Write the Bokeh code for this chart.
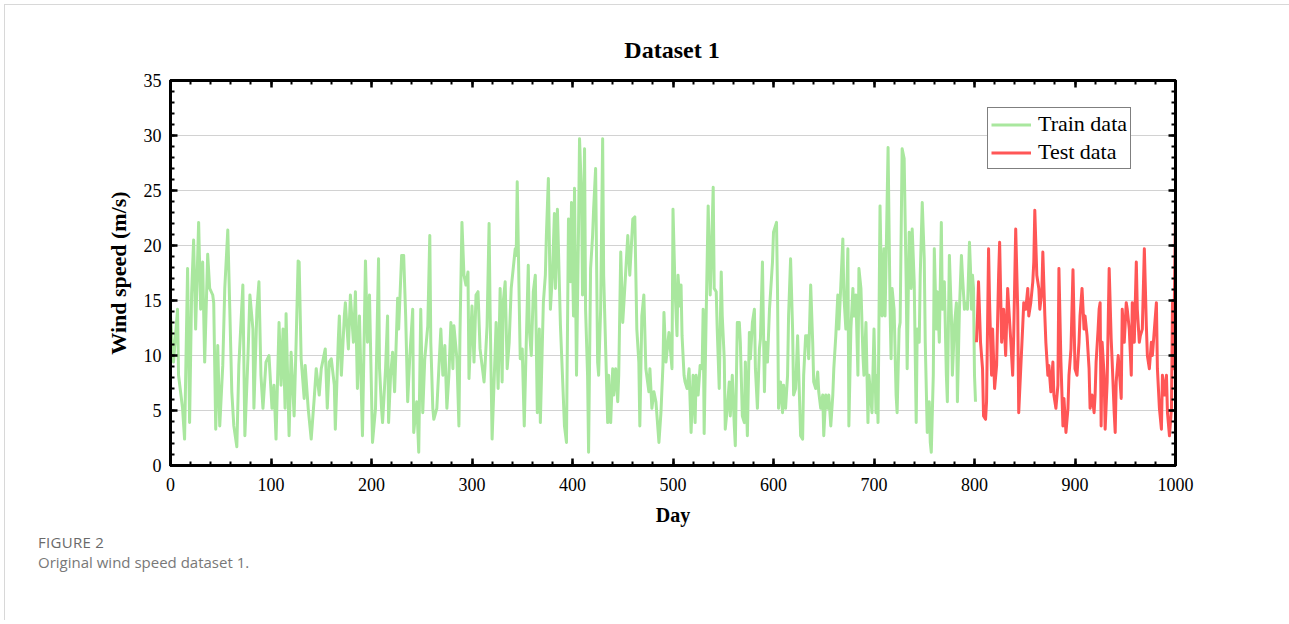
from bokeh.plotting import figure
from bokeh.models import (Range1d, SingleIntervalTicker, LinearAxis, Legend,
                          LegendItem, Div, CustomLabelingPolicy)
from bokeh.layouts import column
from bokeh.embed import file_html
from bokeh.resources import INLINE

# ---------------- data ----------------
train_day = [
    0, 3, 7, 8, 12, 14, 17, 19, 21, 23,
    25, 28, 30, 32, 34, 37, 39, 42, 43, 45,
    47, 49, 52, 54, 57, 59, 61, 63, 66, 68,
    72, 74, 77, 79, 82, 83, 86, 88, 90, 92,
    95, 98, 101, 103, 105, 108, 110, 112, 114, 115,
    118, 120, 123, 125, 127, 128, 130, 133, 134, 137,
    140, 143, 145, 148, 150, 154, 156, 158, 160, 163,
    164, 167, 168, 170, 173, 174, 177, 179, 182, 184,
    186, 188, 191, 194, 196, 198, 201, 204, 207, 208,
    210, 211, 214, 216, 217, 219, 221, 223, 226, 227,
    230, 232, 234, 236, 238, 241, 242, 245, 247, 249,
    251, 253, 256, 258, 259, 261, 262, 265, 267, 269,
    271, 273, 275, 277, 279, 281, 282, 285, 287, 288,
    290, 292, 294, 296, 297, 300, 302, 304, 306, 308,
    310, 312, 313, 315, 317, 318, 320, 323, 324, 326,
    328, 330, 331, 333, 335, 337, 339, 341, 343, 344,
    345, 347, 348, 350, 352, 354, 356, 357, 359, 361,
    363, 365, 367, 368, 371, 373, 374, 376, 378, 380,
    382, 383, 385, 388, 390, 392, 394, 396, 398, 399,
    401, 402, 404, 406, 407, 409, 410, 412, 413, 415,
    416, 418, 420, 421, 423, 425, 426, 428, 430, 431,
    433, 435, 436, 438, 440, 441, 443, 445, 446, 448,
    450, 452, 455, 457, 460, 462, 464, 466, 467, 469,
    471, 473, 476, 477, 479, 481, 483, 486, 488, 490,
    491, 493, 496, 499, 500, 502, 504, 505, 507, 508,
    509, 511, 512, 514, 516, 518, 520, 522, 523, 525,
    527, 529, 530, 531, 533, 535, 537, 538, 540, 541,
    543, 544, 546, 548, 549, 551, 552, 554, 556, 557,
    559, 561, 562, 564, 566, 567, 569, 571, 572, 574,
    576, 577, 579, 581, 582, 584, 586, 587, 589, 591,
    592, 594, 596, 599, 600, 603, 604, 605, 607, 609,
    610, 612, 614, 615, 617, 619, 620, 622, 624, 625,
    627, 629, 630, 632, 634, 635, 637, 639, 640, 642,
    644, 645, 647, 649, 650, 652, 654, 655, 657, 659,
    660, 662, 664, 665, 667, 669, 670, 672, 674, 675,
    677, 679, 680, 682, 684, 685, 687, 689, 690, 692,
    694, 695, 698, 700, 702, 703, 704, 706, 708, 710,
    711, 712, 714, 716, 717, 718, 720, 722, 723, 725,
    726, 728, 730, 732, 733, 735, 737, 738, 740, 742,
    743, 745, 746, 748, 750, 751, 753, 755, 756, 757,
    759, 760, 762, 763, 765, 767, 768, 770, 772, 773,
    775, 777, 778, 780, 782, 783, 785, 787, 788, 790,
    792, 793, 795, 796, 797, 798, 799, 800, 801,
]
train_speed = [
    13.6, 9.4, 14.2, 8.2, 5.2, 2.4, 17.9, 3.9, 15.6, 20.5,
    12.4, 22.1, 14.2, 18.5, 9.4, 19.2, 16.1, 15.5, 14.8, 3.3,
    10.9, 3.6, 9.1, 16.1, 21.4, 14.2, 6.7, 3.6, 1.7, 9.1,
    16.4, 2.7, 9.7, 15.5, 12.4, 5.2, 14.2, 16.7, 8.2, 5.2,
    9.4, 10.0, 5.2, 7.3, 2.4, 13.0, 7.3, 12.4, 5.2, 13.8,
    2.7, 10.3, 4.5, 11.2, 18.6, 18.5, 9.7, 6.1, 9.1, 5.2,
    2.4, 6.1, 8.8, 6.4, 8.8, 10.6, 5.2, 9.4, 9.7, 7.3,
    3.3, 11.5, 13.6, 8.2, 13.6, 14.8, 10.6, 15.5, 11.2, 15.8,
    7.0, 13.6, 2.7, 18.6, 11.2, 15.5, 2.1, 5.2, 18.8, 8.8,
    5.2, 3.9, 8.8, 13.6, 3.9, 8.2, 10.3, 6.7, 15.2, 12.4,
    19.1, 19.1, 13.6, 5.8, 9.7, 14.2, 3.0, 5.8, 1.2, 14.2,
    4.8, 9.7, 12.7, 20.9, 11.2, 5.2, 4.2, 5.2, 8.8, 12.4,
    8.2, 10.9, 5.2, 8.2, 13.0, 8.8, 12.7, 9.7, 3.6, 11.8,
    22.1, 17.3, 16.4, 17.6, 7.9, 14.5, 9.4, 15.5, 15.8, 10.6,
    9.1, 7.6, 9.1, 12.7, 22.0, 14.2, 2.4, 10.3, 13.0, 7.0,
    16.1, 7.6, 14.8, 16.7, 8.8, 11.2, 16.1, 17.9, 19.7, 19.1,
    25.8, 14.8, 9.7, 10.6, 3.6, 11.2, 18.2, 12.4, 10.0, 15.8,
    17.3, 4.8, 12.4, 3.9, 14.8, 17.3, 20.9, 26.1, 14.2, 17.3,
    22.9, 16.1, 23.3, 12.7, 8.2, 3.6, 2.1, 22.4, 16.7, 23.9,
    13.6, 25.2, 8.2, 21.5, 29.7, 24.5, 15.5, 28.8, 14.2, 8.2,
    1.2, 17.9, 20.9, 23.3, 27.0, 9.4, 8.2, 14.2, 29.7, 17.3,
    10.6, 3.9, 8.2, 3.9, 8.8, 6.4, 8.8, 5.8, 8.2, 19.4,
    13.0, 16.1, 20.9, 17.3, 22.4, 22.6, 12.4, 9.4, 3.6, 13.6,
    15.5, 8.8, 6.7, 8.8, 5.2, 6.7, 5.8, 2.1, 4.8, 9.1,
    13.9, 9.4, 12.1, 8.8, 23.3, 16.1, 11.8, 17.3, 14.5, 16.4,
    11.8, 8.2, 7.6, 7.0, 8.8, 3.0, 8.2, 3.9, 8.2, 6.4,
    9.1, 8.8, 14.2, 2.9, 13.6, 23.6, 15.5, 18.5, 25.3, 16.1,
    15.8, 12.4, 7.0, 17.6, 13.6, 9.7, 3.3, 5.2, 7.6, 4.5,
    8.2, 3.6, 1.8, 13.0, 13.0, 11.2, 4.5, 3.9, 9.4, 2.7,
    12.1, 9.7, 13.0, 14.2, 8.8, 5.2, 10.6, 11.5, 18.5, 6.7,
    11.2, 9.4, 14.2, 18.5, 21.2, 22.1, 15.8, 5.2, 7.6, 4.8,
    7.3, 5.2, 8.2, 13.6, 18.8, 12.4, 6.4, 7.0, 11.8, 8.8,
    2.7, 2.4, 8.2, 11.8, 11.8, 9.7, 16.4, 11.2, 7.6, 7.0,
    8.5, 6.7, 5.2, 6.4, 2.7, 6.4, 5.2, 6.4, 3.6, 6.4,
    8.8, 11.8, 15.5, 12.4, 16.4, 20.6, 15.5, 12.4, 19.7, 3.6,
    12.4, 16.1, 13.6, 15.5, 8.2, 17.9, 16.1, 10.0, 8.2, 13.0,
    3.9, 8.2, 4.8, 12.4, 4.8, 8.2, 3.9, 23.6, 13.6, 19.7,
    13.6, 18.5, 28.9, 14.2, 9.7, 16.1, 14.2, 6.4, 4.8, 12.4,
    13.0, 28.8, 27.9, 16.7, 8.8, 21.2, 16.1, 21.5, 16.7, 3.9,
    12.4, 11.2, 17.3, 23.9, 18.8, 11.2, 3.0, 5.8, 2.1, 1.2,
    8.2, 19.7, 12.4, 15.8, 11.2, 22.1, 14.2, 16.7, 8.2, 5.8,
    19.1, 13.6, 8.2, 12.7, 14.8, 5.8, 14.2, 19.1, 17.3, 14.2,
    14.8, 14.2, 20.3, 17.9, 14.2, 17.3, 16.1, 8.2, 5.8,
]
test_day = [
    802, 803, 804, 806, 808, 809, 811, 812, 814, 815,
    817, 818, 820, 822, 824, 825, 827, 829, 831, 833,
    834, 836, 838, 839, 841, 843, 844, 846, 848, 849,
    851, 853, 854, 856, 858, 859, 860, 862, 864, 865,
    867, 868, 870, 871, 873, 874, 876, 878, 879, 881,
    883, 884, 886, 888, 889, 891, 893, 894, 896, 898,
    900, 902, 904, 905, 907, 909, 910, 912, 914, 915,
    917, 919, 920, 921, 923, 924, 925, 926, 927, 929,
    930, 932, 934, 936, 937, 939, 940, 941, 943, 944,
    946, 947, 949, 951, 952, 954, 956, 957, 959, 961,
    962, 964, 965, 967, 969, 971, 972, 974, 976, 977,
    979, 981, 982, 984, 986, 987, 989, 991, 992, 994,
    996, 997, 998, 1000,
]
test_speed = [
    11.2, 13.6, 16.7, 11.2, 8.8, 4.5, 4.2, 5.8, 19.7, 14.8,
    8.2, 12.4, 7.0, 9.1, 17.3, 20.3, 11.2, 14.2, 10.0, 16.1,
    14.5, 11.5, 8.2, 11.8, 21.5, 14.2, 4.8, 8.8, 12.7, 14.8,
    14.2, 16.1, 13.6, 14.8, 16.7, 18.5, 23.2, 17.3, 16.1, 14.2,
    15.8, 19.4, 13.6, 11.2, 8.2, 9.1, 6.7, 9.4, 6.4, 5.2,
    7.3, 17.9, 9.4, 3.6, 6.1, 3.0, 5.2, 8.2, 10.6, 17.8,
    8.8, 8.2, 11.2, 13.6, 16.1, 12.4, 13.6, 11.8, 8.8, 5.2,
    6.4, 4.8, 6.4, 9.4, 12.4, 14.2, 14.8, 3.6, 11.2, 8.2,
    3.3, 7.6, 17.9, 11.5, 9.4, 4.8, 3.0, 7.6, 10.0, 8.8,
    6.1, 14.2, 11.2, 14.8, 14.2, 12.4, 8.2, 14.8, 11.2, 18.5,
    14.2, 11.2, 11.8, 12.4, 19.7, 12.7, 10.0, 8.8, 11.2, 10.0,
    12.4, 14.8, 8.8, 5.2, 3.3, 8.2, 6.4, 8.2, 4.8, 2.7,
    5.2, 14.8, 8.8, 23.0,
]
x_ticks_interval = 100
y_ticks_interval = 5
title_text = "Dataset 1"
x_label = "Day"
y_label = "Wind speed (m/s)"
series_names = ["Train data", "Test data"]
caption_head = "FIGURE 2"
caption_text = "Original wind speed dataset 1."

SERIF = "Liberation Serif"
GREEN = "#a9e79e"
RED = "#ff5656"

# ---------------- title (as a block above the plot) ----------------
title_div = Div(text=f"<b>{title_text}</b>", width=1284, height=56, margin=0,
                styles={"font-family": "'Liberation Serif'", "font-size": "24px",
                        "line-height": "24px", "padding-top": "33px", "padding-left": "50px",
                        "text-align": "center", "color": "black", "box-sizing": "border-box"})

# ---------------- figure ----------------
p = figure(width=1284, height=469, x_range=Range1d(0, 1000), y_range=Range1d(0, 35),
           output_backend="svg", toolbar_location=None, margin=0,
           min_border_left=165, min_border_right=114, min_border_top=19, min_border_bottom=65,
           background_fill_color="white", border_fill_color="white")
p.outline_line_color = "black"
p.outline_line_width = 3

xt = SingleIntervalTicker(interval=x_ticks_interval, num_minor_ticks=5)
yt = SingleIntervalTicker(interval=y_ticks_interval, num_minor_ticks=5)

bottom_axis = p.xaxis[0]
left_axis = p.yaxis[0]
bottom_axis.ticker = xt
left_axis.ticker = yt

no_labels = CustomLabelingPolicy(code="""
for (let i = 0; i < indices.size; i++) { indices.unset(i) }
return indices
""")
top_axis = LinearAxis(ticker=xt, major_label_policy=no_labels)
right_axis = LinearAxis(ticker=yt, major_label_policy=no_labels)
p.add_layout(top_axis, "above")
p.add_layout(right_axis, "right")

for ax in [bottom_axis, left_axis, top_axis, right_axis]:
    ax.axis_line_color = "black"
    ax.axis_line_width = 3
    ax.major_tick_in = 7
    ax.major_tick_out = 0
    ax.minor_tick_in = 4
    ax.minor_tick_out = 0
    ax.major_tick_line_width = 2.5
    ax.minor_tick_line_width = 2
    ax.major_tick_line_color = "black"
    ax.minor_tick_line_color = "black"
    ax.major_label_text_font = SERIF
    ax.major_label_text_font_size = "18px"
    ax.major_label_text_color = "black"
    ax.axis_label_text_font = SERIF
    ax.axis_label_text_font_size = "20px"
    ax.axis_label_text_font_style = "bold"
    ax.axis_label_text_color = "black"

for ax in [top_axis, right_axis]:
    ax.major_label_text_font_size = "8px"
    ax.major_label_standoff = 0

bottom_axis.axis_label = x_label
left_axis.axis_label = y_label
left_axis.axis_label_text_font_size = "22px"
bottom_axis.major_label_standoff = 12
left_axis.major_label_standoff = 9
bottom_axis.axis_label_standoff = 10
left_axis.axis_label_standoff = 10

p.xgrid.visible = False
p.ygrid.ticker = SingleIntervalTicker(interval=y_ticks_interval)
p.ygrid.grid_line_color = "#d2d2d2"
p.ygrid.grid_line_width = 1

r_train = p.line(train_day, train_speed, line_color=GREEN, line_width=3, line_join="round")
r_test = p.line(test_day, test_speed, line_color=RED, line_width=3, line_join="round")

legend = Legend(items=[LegendItem(label=series_names[0], renderers=[r_train]),
                       LegendItem(label=series_names[1], renderers=[r_test])],
                location=(817, 296))
legend.label_text_font = SERIF
legend.label_text_font_size = "22px"
legend.label_text_color = "black"
legend.glyph_width = 40
legend.glyph_height = 25
legend.label_height = 25
legend.label_standoff = 7
legend.padding = 3
legend.spacing = 2
legend.margin = 0
legend.border_line_color = "black"
legend.border_line_width = 1
legend.background_fill_color = "white"
legend.background_fill_alpha = 1
p.add_layout(legend)

cap = Div(text=(f'<div style="color:#6a6a6a;letter-spacing:0.3px">{caption_head}</div>'
                f'<div style="color:#787878">{caption_text}</div>'),
          width=1284, height=90, margin=0,
          styles={"font-family": "'Open Sans'", "font-size": "15px", "line-height": "20px",
                  "padding-left": "33px", "padding-top": "2px"})

layout = column(title_div, p, cap, margin=(4, 0, 0, 4),
                styles={"border-top": "1px solid #d8d8d8", "border-left": "1px solid #d8d8d8"})

open("out.html", "w").write(file_html(layout, INLINE))
